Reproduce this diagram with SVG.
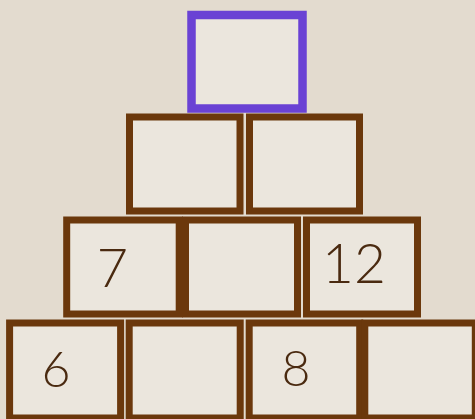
<svg xmlns="http://www.w3.org/2000/svg" width="475" height="419" viewBox="0 0 475 419">
<style>
.box{fill:#ebe6dd;stroke:#6b380c;stroke-width:7}
.top{fill:#ebe6dd;stroke:#6a42d4;stroke-width:8.5}
.num{font-family:Lato,"Open Sans",sans-serif;fill:#4a2a10;text-anchor:middle;font-weight:300}
</style>
<rect x="0" y="0" width="475" height="419" fill="#e3dbcf"/>
<g id="top"><rect class="top" x="191.5" y="15" width="111" height="93.5"/></g>
<g id="r2b1"><rect class="box" x="129.5" y="117" width="110.5" height="94"/></g>
<g id="r2b2"><rect class="box" x="249.5" y="117" width="110" height="94"/></g>
<g id="r3b1"><rect class="box" x="66.7" y="220" width="112.5" height="94"/><text class="num" x="112.5" y="287" font-size="54">7</text></g>
<g id="r3b2"><rect class="box" x="185.5" y="220" width="112" height="94"/></g>
<g id="r3b3"><rect class="box" x="306.5" y="220" width="111" height="94"/><text class="num" x="354" y="283" font-size="55">12</text></g>
<g id="r4b1"><rect class="box" x="9.6" y="323" width="111" height="95"/><text class="num" x="56" y="387" font-size="50">6</text></g>
<g id="r4b2"><rect class="box" x="129.2" y="323" width="111" height="95"/></g>
<g id="r4b3"><rect class="box" x="249.2" y="323" width="110.5" height="95"/><text class="num" x="296" y="386" font-size="50">8</text></g>
<g id="r4b4"><rect class="box" x="364.8" y="323" width="110.5" height="95"/></g>
<g id="connectors"></g>
</svg>
